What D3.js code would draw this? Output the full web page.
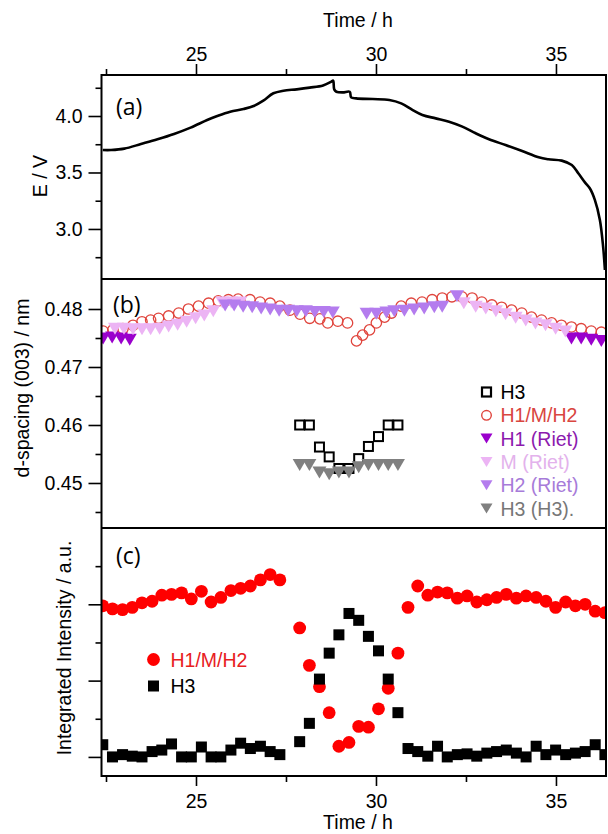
<!DOCTYPE html>
<html><head><meta charset="utf-8">
<script src="https://cdn.jsdelivr.net/npm/d3@7"></script>
<style>body{margin:0;background:#fff}svg{display:block}</style>
</head><body>
<svg id="chart" width="608" height="834"></svg>
<script>
// ---------- tick values ----------
const timeMajor = [25, 30, 35];
const timeMinor = [22.5, 27.5, 32.5];
const eMajor = [3.0, 3.5, 4.0];
const eMinor = [2.75, 3.25, 3.75, 4.25];
const dMajor = [0.45, 0.46, 0.47, 0.48];
const dMinor = [0.445, 0.455, 0.465, 0.475];
const iMajor = [0, 1, 2];
const iMinor = [0.5, 1.5, 2.5];

// ---------- (a) voltage ----------
const voltTime = [22.41,22.64,23.01,23.47,23.93,24.39,24.85,25.31,25.59,25.95,26.32,26.60,26.87,27.15,27.43,27.80,28.16,28.53,28.76,28.81,28.84,28.90,29.08,29.27,29.31,29.45,29.91,30.37,30.70,31.02,31.29,31.66,32.03,32.40,32.77,33.14,33.60,34.06,34.52,34.79,35.16,35.44,35.62,35.81,35.94,36.08,36.22,36.31,36.36];
const voltE = [3.699,3.699,3.711,3.752,3.794,3.841,3.897,3.965,4.000,4.038,4.062,4.088,4.136,4.201,4.224,4.236,4.251,4.271,4.304,4.313,4.236,4.215,4.209,4.215,4.165,4.156,4.150,4.142,4.112,4.053,4.009,3.979,3.950,3.906,3.847,3.794,3.743,3.690,3.634,3.617,3.605,3.566,3.493,3.410,3.360,3.257,3.080,2.844,2.637];

// ---------- (b) d-spacing ----------
const hmhTime = [22.42,22.69,22.97,23.25,23.50,23.74,23.96,24.24,24.52,24.79,25.07,25.35,25.62,25.90,26.17,26.50,26.78,27.06,27.33,27.61,27.89,28.16,28.44,28.66,28.94,29.21,29.46,29.63,29.82,30.01,30.24,30.43,30.70,30.98,31.28,31.56,31.84,32.11,32.39,32.67,32.94,33.22,33.49,33.77,34.05,34.32,34.60,34.88,35.15,35.43,35.70,35.98,36.26];
const hmhD = [0.4762,0.4764,0.4766,0.4772,0.4778,0.4781,0.4784,0.4788,0.4793,0.4800,0.4805,0.4810,0.4814,0.4816,0.4817,0.4816,0.4812,0.4810,0.4805,0.4798,0.4791,0.4784,0.4783,0.4776,0.4779,0.4776,0.4745,0.4755,0.4764,0.4776,0.4786,0.4793,0.4805,0.4810,0.4812,0.4816,0.4819,0.4821,0.4821,0.4819,0.4812,0.4807,0.4803,0.4798,0.4793,0.4786,0.4781,0.4776,0.4772,0.4769,0.4766,0.4762,0.4760];
const h1Time = [22.42,22.67,22.92,23.16,35.43,35.70,35.98,36.26];
const h1D = [0.4749,0.4751,0.4749,0.4747,0.4749,0.4749,0.4747,0.4745];
const mTime = [22.75,23.00,23.25,23.50,23.74,23.99,24.24,24.49,24.74,24.99,25.23,25.48,25.73,25.98,26.23,32.44,32.77,33.05,33.33,33.60,33.88,34.16,34.43,34.71,34.99,35.26];
const mD = [0.4766,0.4766,0.4765,0.4765,0.4765,0.4766,0.4770,0.4773,0.4778,0.4784,0.4789,0.4796,0.4811,0.4811,0.4811,0.4810,0.4804,0.4801,0.4796,0.4791,0.4785,0.4780,0.4775,0.4772,0.4766,0.4761];
const h2Time = [25.81,26.06,26.31,26.56,26.81,27.06,27.31,27.56,27.80,28.05,28.30,28.55,28.80,29.74,30.01,30.29,30.51,30.79,31.06,31.34,31.62,31.84,32.25];
const h2D = [0.4806,0.4806,0.4804,0.4803,0.4801,0.4799,0.4797,0.4797,0.4796,0.4796,0.4795,0.4795,0.4794,0.4792,0.4792,0.4794,0.4796,0.4797,0.4799,0.4801,0.4803,0.4804,0.4822];
const h3Time = [27.88,28.15,28.43,28.70,28.97,29.25,29.52,29.79,30.07,30.34,30.61];
const h3SqD = [0.4600,0.4600,0.4562,0.4545,0.4525,0.4525,0.4542,0.4563,0.4580,0.4600,0.4600];
const h3TriD = [0.4531,0.4531,0.4518,0.4515,0.4518,0.4518,0.4527,0.4531,0.4531,0.4531,0.4531];

// ---------- (c) integrated intensity ----------
const intTime = [22.41,22.68,22.96,23.23,23.50,23.78,24.05,24.32,24.60,24.87,25.15,25.42,25.69,25.97,26.24,26.51,26.79,27.06,27.33,27.88,28.15,28.43,28.70,28.97,29.25,29.52,29.79,30.07,30.34,30.61,30.89,31.16,31.44,31.71,31.98,32.26,32.53,32.80,33.08,33.35,33.62,33.90,34.17,34.45,34.72,34.99,35.27,35.54,35.81,36.09,36.36];
const intHMH = [1.98,1.94,1.93,1.96,2.02,2.04,2.12,2.13,2.15,2.07,2.17,2.03,2.09,2.18,2.21,2.24,2.32,2.39,2.32,1.69,1.20,0.92,0.58,0.14,0.19,0.40,0.39,0.63,0.90,1.36,1.96,2.24,2.12,2.16,2.15,2.08,2.11,2.03,2.06,2.09,2.13,2.08,2.11,2.09,2.04,1.96,2.03,1.98,2.00,1.91,1.89];
const intH3 = [0.16,0.00,0.03,0.01,0.00,0.07,0.09,0.17,0.00,0.00,0.13,0.00,0.00,0.09,0.18,0.11,0.14,0.07,0.03,0.20,0.44,1.02,1.36,1.60,1.88,1.79,1.58,1.39,1.02,0.58,0.11,0.07,0.01,0.14,0.00,0.03,0.04,0.01,0.05,0.07,0.09,0.05,0.00,0.14,0.03,0.09,0.03,0.05,0.07,0.16,0.03];

// ---------- legends ----------
const legendB = ["H3","H1/M/H2","H1 (Riet)","M (Riet)","H2 (Riet)","H3 (H3)."];
const legendC = ["H1/M/H2","H3"];

// ---------- styles ----------
const C = {
  red:"#ff0000", redOpen:"#e0453d", redText:"#d94640",
  h1:"#9a00cc", h1Text:"#8c1aae",
  m:"#ecb4f4", mText:"#e3b2ec",
  h2:"#b47cee", h2Text:"#a77bd9",
  h3:"#808080", h3Text:"#777777"
};
const FONT = "'Liberation Sans', Arial, sans-serif";
const FS = 19.5;

const svg = d3.select("#chart");
const L = 101.5, R = 606, T = 75, B1 = 279, B2 = 528, BOT = 776;

const x = d3.scaleLinear().domain([22.375, 36.39]).range([L, R]);
const yA = d3.scaleLinear().domain([2.557, 4.363]).range([B1, T]);
const yB = d3.scaleLinear().domain([0.44224, 0.485]).range([B2, B1 + 1]);
const yC = d3.scaleLinear().domain([-0.25, 3.0]).range([BOT, B2]);

const defs = svg.append("defs");
[["clipA",T,B1],["clipB",B1,B2],["clipC",B2,BOT]].forEach(([id,t,b])=>{
  defs.append("clipPath").attr("id",id).append("rect")
    .attr("x",L).attr("y",t).attr("width",R-L).attr("height",b-t);
});

function styleAxis(g){
  g.select(".domain").remove();
  g.selectAll("line").attr("stroke","#000").attr("stroke-width",1.6);
  g.selectAll("text").attr("font-family",FONT).attr("font-size",FS).attr("fill","#000");
}

// top time axis
svg.append("g").attr("transform",`translate(0,${T})`)
  .call(d3.axisTop(x).tickValues(timeMajor).tickSize(11).tickPadding(3).tickFormat(d3.format("d")))
  .call(styleAxis);
svg.append("g").attr("transform",`translate(0,${T})`)
  .call(d3.axisTop(x).tickValues(timeMinor).tickSize(6).tickFormat(""))
  .call(styleAxis);
// bottom time axis
svg.append("g").attr("transform",`translate(0,${BOT})`)
  .call(d3.axisBottom(x).tickValues(timeMajor).tickSize(10).tickPadding(8).tickFormat(d3.format("d")))
  .call(styleAxis);
svg.append("g").attr("transform",`translate(0,${BOT})`)
  .call(d3.axisBottom(x).tickValues(timeMinor).tickSize(6).tickFormat(""))
  .call(styleAxis);

// left axes
function leftAxis(scale, major, minor, fmt){
  svg.append("g").attr("transform",`translate(${L},0)`)
    .call(d3.axisLeft(scale).tickValues(major).tickSize(13).tickPadding(6).tickFormat(fmt))
    .call(styleAxis);
  svg.append("g").attr("transform",`translate(${L},0)`)
    .call(d3.axisLeft(scale).tickValues(minor).tickSize(6).tickFormat(""))
    .call(styleAxis);
}
leftAxis(yA, eMajor, eMinor, d3.format(".1f"));
leftAxis(yB, dMajor, dMinor, d3.format(".2f"));
leftAxis(yC, iMajor, iMinor, ()=>"");

// axis titles
function txt(s, xx, yy, opts={}){
  const t = svg.append("text").attr("x",xx).attr("y",yy).text(s)
    .attr("font-family",opts.font||FONT).attr("font-size",opts.size||FS)
    .attr("fill",opts.fill||"#000").attr("text-anchor",opts.anchor||"start");
  if(opts.rot) t.attr("transform",`rotate(-90,${xx},${yy})`).attr("dominant-baseline","central");
  return t;
}
txt("Time / h", (x(29.5)), 27, {anchor:"middle"});
txt("Time / h", (x(29.5)), 829, {anchor:"middle"});
txt("E / V", 40, 176, {anchor:"middle", rot:true});
txt("d-spacing (003) / nm", 22, 388, {anchor:"middle", rot:true});
txt("Integrated Intensity / a.u.", 64, 648, {anchor:"middle", rot:true});

// panel labels
const PF = "'Open Sans', 'DejaVu Sans', sans-serif";
txt("(a)", 116, 115, {font:PF, size:23});
txt("(b)", 113, 313, {font:PF, size:23});
txt("(c)", 116, 564, {font:PF, size:23});

// ---------- panel (a) ----------
const voltData = voltTime.map((t,i)=>({t, v:voltE[i]}));
svg.append("g").attr("clip-path","url(#clipA)").append("path")
  .datum(voltData)
  .attr("fill","none").attr("stroke","#000").attr("stroke-width",2.6).attr("stroke-linejoin","round")
  .attr("d", d3.line().x(d=>x(d.t)).y(d=>yA(d.v)).curve(d3.curveCatmullRom.alpha(0.5)));

// ---------- panel (b) ----------
const triPath = (w,h)=>`M${-w/2},${-h/2}L${w/2},${-h/2}L0,${h/2}Z`;
const gB = svg.append("g").attr("clip-path","url(#clipB)");
function zipD(ts, vs){ return ts.map((t,i)=>({t, v:vs[i]})); }

gB.selectAll("circle.hmh").data(zipD(hmhTime,hmhD)).join("circle")
  .attr("cx",d=>x(d.t)).attr("cy",d=>yB(d.v)).attr("r",5.2)
  .attr("fill","none").attr("stroke",C.redOpen).attr("stroke-width",1.3);

[[h1Time,h1D,C.h1],[mTime,mD,C.m],[h2Time,h2D,C.h2]].forEach(([ts,vs,col])=>{
  gB.append("g").selectAll("path").data(zipD(ts,vs)).join("path")
    .attr("d",triPath(14,12)).attr("fill",col)
    .attr("transform",d=>`translate(${x(d.t)},${yB(d.v)})`);
});

gB.selectAll("rect.h3").data(zipD(h3Time,h3SqD)).join("rect")
  .attr("x",d=>x(d.t)-4.5).attr("y",d=>yB(d.v)-4.5).attr("width",9).attr("height",9)
  .attr("fill","none").attr("stroke","#000").attr("stroke-width",2);
gB.append("g").selectAll("path").data(zipD(h3Time,h3TriD)).join("path")
  .attr("d",triPath(14,12)).attr("fill",C.h3)
  .attr("transform",d=>`translate(${x(d.t)},${yB(d.v)})`);

// legend (b)
const lgB = svg.append("g");
const lbX = 486.5, lbY0 = 392, lbDy = 23.3;
const lbCols = ["#000", C.redText, C.h1Text, C.mText, C.h2Text, C.h3Text];
const lbMark = ["#000", C.redOpen, C.h1, C.m, C.h2, C.h3];
legendB.forEach((s,i)=>{
  const yy = lbY0 + i*lbDy;
  if(i===0){
    lgB.append("rect").attr("x",lbX-4.5).attr("y",yy-4.5).attr("width",9).attr("height",9)
      .attr("fill","none").attr("stroke","#000").attr("stroke-width",2.2);
  } else if(i===1){
    lgB.append("circle").attr("cx",lbX).attr("cy",yy).attr("r",4.8)
      .attr("fill","none").attr("stroke",lbMark[i]).attr("stroke-width",1.4);
  } else {
    lgB.append("path").attr("d",triPath(12,10)).attr("fill",lbMark[i])
      .attr("transform",`translate(${lbX},${yy})`);
  }
  lgB.append("text").attr("x",lbX+14).attr("y",yy+7).text(s)
    .attr("font-family",FONT).attr("font-size",FS).attr("fill",lbCols[i]);
});

// ---------- panel (c) ----------
const gC = svg.append("g").attr("clip-path","url(#clipC)");
gC.selectAll("circle").data(zipD(intTime,intHMH)).join("circle")
  .attr("cx",d=>x(d.t)).attr("cy",d=>yC(d.v)).attr("r",6.4).attr("fill",C.red);
gC.selectAll("rect").data(zipD(intTime,intH3)).join("rect")
  .attr("x",d=>x(d.t)-5.5).attr("y",d=>yC(d.v)-5.5).attr("width",11).attr("height",11).attr("fill","#000");

// legend (c)
const lcX = 153.5;
svg.append("circle").attr("cx",lcX).attr("cy",659.5).attr("r",6.4).attr("fill",C.red);
svg.append("text").attr("x",lcX+17).attr("y",666.5).text(legendC[0])
  .attr("font-family",FONT).attr("font-size",FS).attr("fill","#e8201e");
svg.append("rect").attr("x",lcX-5.5).attr("y",686-5.5).attr("width",11).attr("height",11).attr("fill","#000");
svg.append("text").attr("x",lcX+17).attr("y",693).text(legendC[1])
  .attr("font-family",FONT).attr("font-size",FS).attr("fill","#000");

// ---------- frame ----------
svg.append("rect").attr("x",L).attr("y",T).attr("width",R-L).attr("height",BOT-T)
  .attr("fill","none").attr("stroke","#000").attr("stroke-width",2);
[B1,B2].forEach(yy=>svg.append("line").attr("x1",L).attr("x2",R).attr("y1",yy).attr("y2",yy)
  .attr("stroke","#000").attr("stroke-width",2));
</script>
</body></html>
